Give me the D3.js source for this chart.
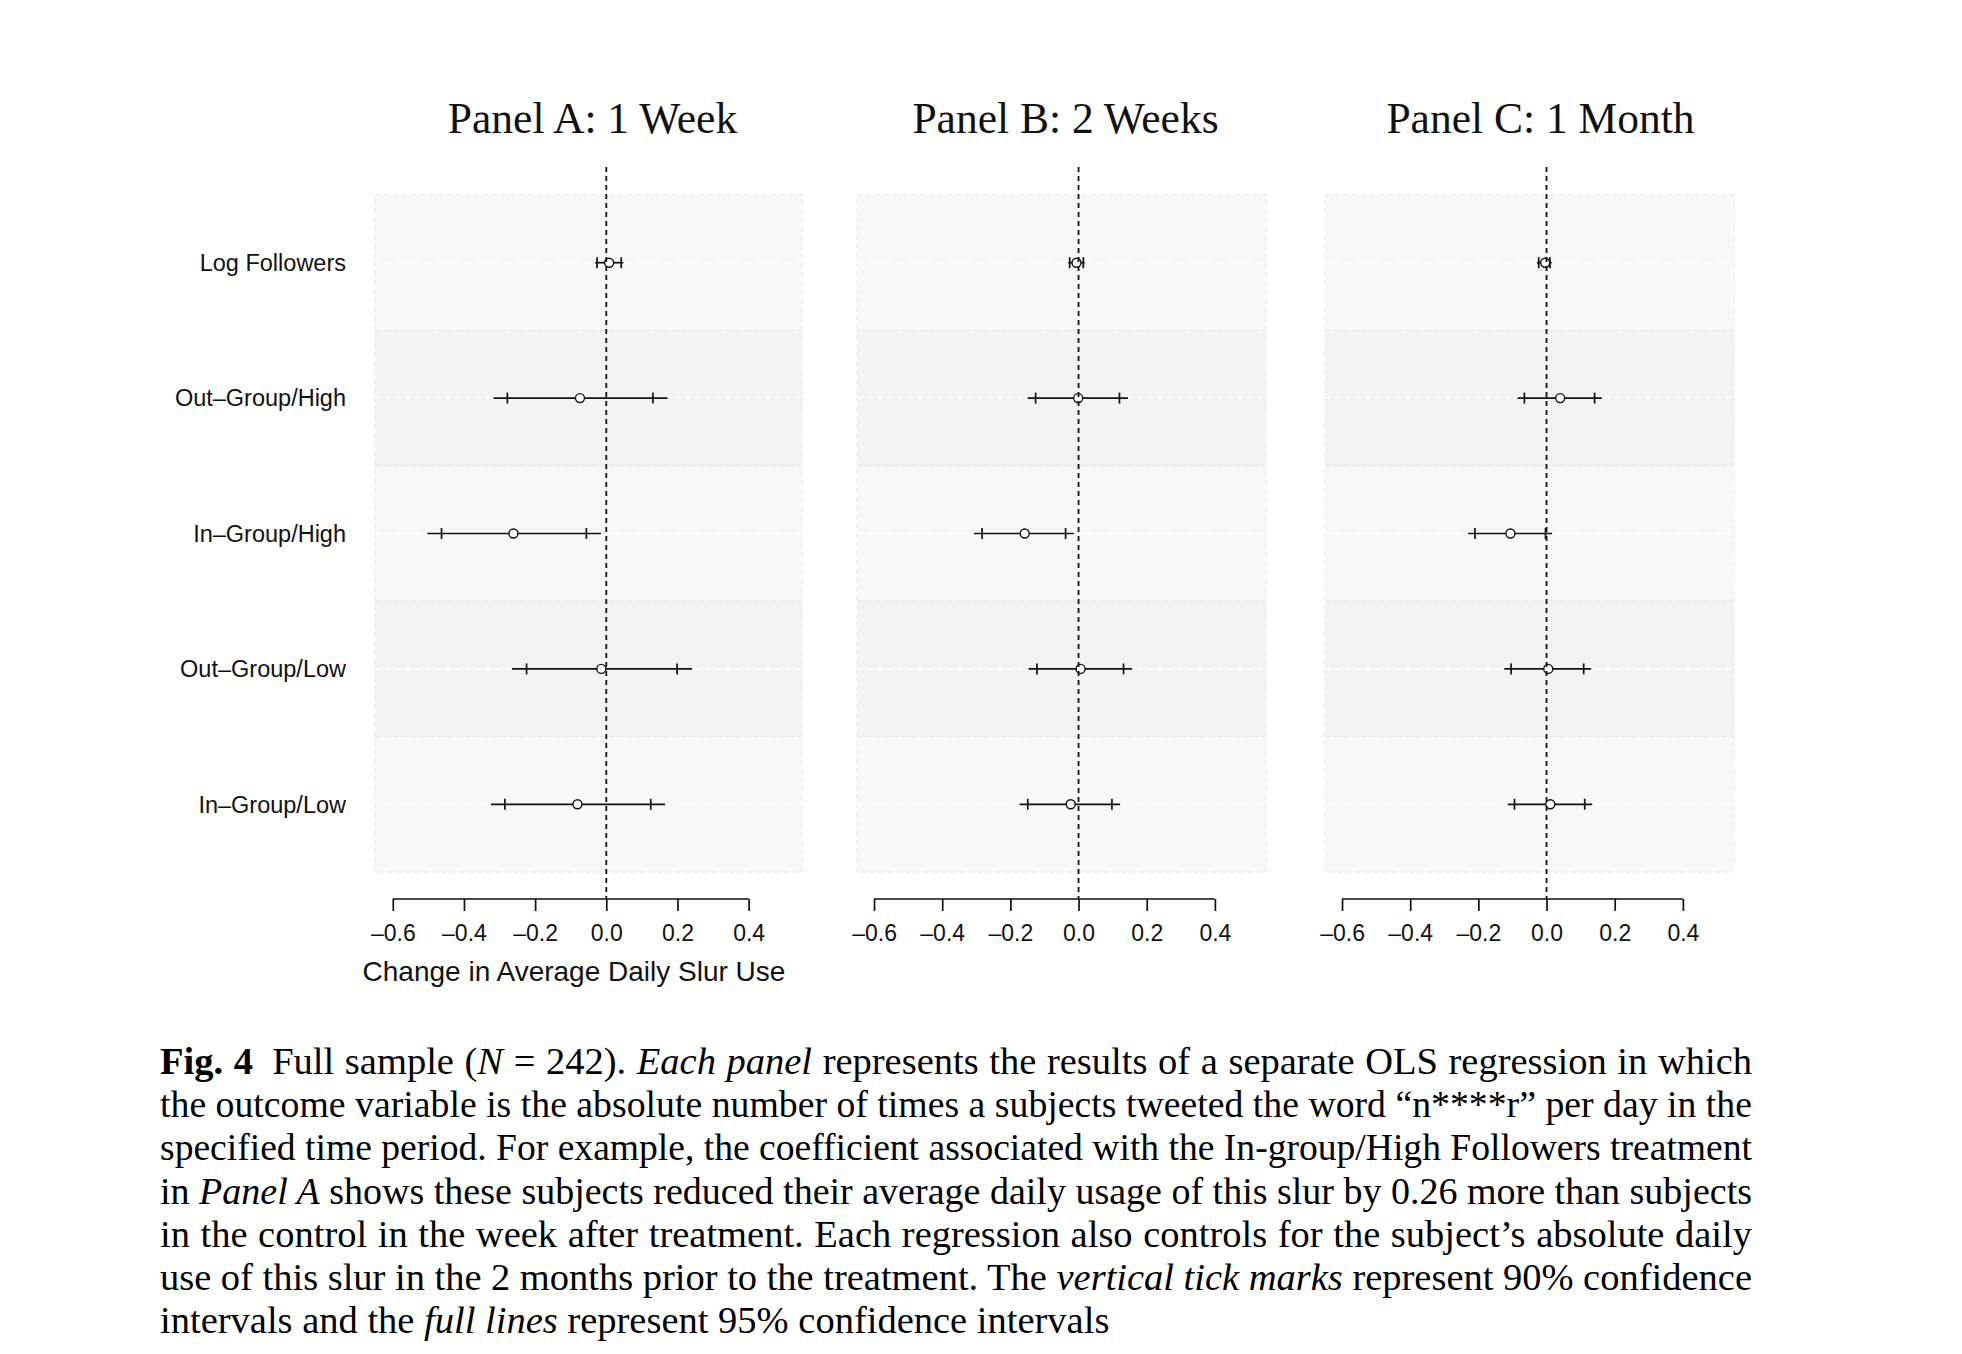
<!DOCTYPE html>
<html>
<head>
<meta charset="utf-8">
<script src="https://cdn.jsdelivr.net/npm/d3@7"></script>
<style>
  body { margin: 0; background: #fff; }
  svg { display: block; }
</style>
</head>
<body>
<svg id="chart"></svg>
<script>
const categories = ["Log Followers", "Out\u2013Group/High", "In\u2013Group/High", "Out\u2013Group/Low", "In\u2013Group/Low"];
const panelTitles = ["Panel A: 1 Week", "Panel B: 2 Weeks", "Panel C: 1 Month"];
const xTicks = [-0.6, -0.4, -0.2, 0.0, 0.2, 0.4];

// Panel A: 1 week
const estA  = [0.008, -0.074, -0.261, -0.014, -0.081];
const lo95A = [-0.031, -0.317, -0.503, -0.265, -0.324];
const hi95A = [0.048, 0.172, -0.015, 0.241, 0.165];
const lo90A = [-0.026, -0.278, -0.463, -0.224, -0.285];
const hi90A = [0.042, 0.131, -0.056, 0.199, 0.125];

// Panel B: 2 weeks
const estB  = [-0.006, -0.001, -0.158, 0.006, -0.023];
const lo95B = [-0.030, -0.149, -0.307, -0.147, -0.173];
const hi95B = [0.018, 0.145, -0.014, 0.157, 0.122];
const lo90B = [-0.026, -0.126, -0.283, -0.122, -0.149];
const hi90B = [0.014, 0.120, -0.038, 0.132, 0.098];

// Panel C: 1 month
const estC  = [-0.004, 0.040, -0.106, 0.005, 0.011];
const lo95C = [-0.028, -0.085, -0.230, -0.124, -0.114];
const hi95C = [0.015, 0.162, 0.016, 0.131, 0.134];
const lo90C = [-0.023, -0.065, -0.210, -0.104, -0.094];
const hi90C = [0.010, 0.141, -0.003, 0.109, 0.112];

const xLabel = "Change in Average Daily Slur Use";

// caption lines: [text, style] with style "" | "b" | "i"
const captionLines = [
  [["Fig. 4", "b"], ["\u2002Full sample (", ""], ["N", "i"], [" = 242). ", ""], ["Each panel", "i"], [" represents the results of a separate OLS regression in which", ""]],
  [["the outcome variable is the absolute number of times a subjects tweeted the word \u201cn****r\u201d per day in the", ""]],
  [["specified time period. For example, the coefficient associated with the In-group/High Followers treatment", ""]],
  [["in ", ""], ["Panel A", "i"], [" shows these subjects reduced their average daily usage of this slur by 0.26 more than subjects", ""]],
  [["in the control in the week after treatment. Each regression also controls for the subject\u2019s absolute daily", ""]],
  [["use of this slur in the 2 months prior to the treatment. The ", ""], ["vertical tick marks", "i"], [" represent 90% confidence", ""]],
  [["intervals and the ", ""], ["full lines", "i"], [" represent 95% confidence intervals", ""]]
];

const W = 1962, H = 1354;
const svg = d3.select("#chart").attr("width", W).attr("height", H);
svg.append("rect").attr("width", W).attr("height", H).attr("fill", "#fff");

const sans = "'Liberation Sans', Arial, Helvetica, sans-serif";
const serif = "'Liberation Serif', 'Times New Roman', serif";

const plotTop = 167, plotBottom = 899;
const y = d3.scaleBand()
  .domain(categories)
  .range([195, 872])
  .padding(0);

const panels = [
  { title: panelTitles[0], est: estA, lo95: lo95A, hi95: hi95A, lo90: lo90A, hi90: hi90A, x0: 375, x1: 802, tx: 4 },
  { title: panelTitles[1], est: estB, lo95: lo95B, hi95: hi95B, lo90: lo90B, hi90: hi90B, x0: 857, x1: 1266, tx: 4 },
  { title: panelTitles[2], est: estC, lo95: lo95C, hi95: hi95C, lo90: lo90C, hi90: hi90C, x0: 1325, x1: 1734, tx: 11 }
];

panels.forEach((p, pi) => {
  const x = d3.scaleLinear().domain([-0.65, 0.55]).range([p.x0, p.x1]);
  const g = svg.append("g").attr("class", "panel");
  const rows = categories.map((c, i) => ({
    cat: c, est: p.est[i], lo95: p.lo95[i], hi95: p.hi95[i], lo90: p.lo90[i], hi90: p.hi90[i], i
  }));
  const cy = d => y(d.cat) + y.bandwidth() / 2;

  // shaded row bands
  g.selectAll(".band")
    .data(rows)
    .enter()
    .append("rect")
    .attr("class", "band")
    .attr("x", p.x0)
    .attr("y", d => y(d.cat))
    .attr("width", p.x1 - p.x0)
    .attr("height", y.bandwidth())
    .attr("fill", d => d.i % 2 === 0 ? "#f8f8f8" : "#f3f3f3")
    .attr("stroke", "#e6e6e6")
    .attr("stroke-width", 1)
    .attr("stroke-dasharray", "5,4");

  // white dashed guide at each row centre
  g.selectAll(".guide")
    .data(rows)
    .enter()
    .append("line")
    .attr("x1", p.x0)
    .attr("x2", p.x1)
    .attr("y1", cy)
    .attr("y2", cy)
    .attr("stroke", "#fff")
    .attr("stroke-width", 1.5)
    .attr("stroke-dasharray", "6,4");

  // 95% interval lines
  g.selectAll(".ci95")
    .data(rows)
    .enter()
    .append("line")
    .attr("x1", d => x(d.lo95))
    .attr("x2", d => x(d.hi95))
    .attr("y1", cy)
    .attr("y2", cy)
    .attr("stroke", "#111")
    .attr("stroke-width", 1.7);

  // 90% tick marks
  ["lo90", "hi90"].forEach(k => {
    g.selectAll(".t" + k)
      .data(rows)
      .enter()
      .append("line")
      .attr("x1", d => x(d[k]))
      .attr("x2", d => x(d[k]))
      .attr("y1", d => cy(d) - 5.5)
      .attr("y2", d => cy(d) + 5.5)
      .attr("stroke", "#111")
      .attr("stroke-width", 1.7);
  });

  // point estimates
  g.selectAll(".pt")
    .data(rows)
    .enter()
    .append("circle")
    .attr("cx", d => x(d.est))
    .attr("cy", cy)
    .attr("r", 4.5)
    .attr("fill", "#fff")
    .attr("stroke", "#111")
    .attr("stroke-width", 1.4);

  // zero reference line
  g.append("line")
    .attr("x1", x(0)).attr("x2", x(0))
    .attr("y1", plotTop).attr("y2", plotBottom)
    .attr("stroke", "#111")
    .attr("stroke-width", 1.8)
    .attr("stroke-dasharray", "5,4");

  // bottom axis
  const ax = g.append("g")
    .attr("transform", `translate(0,${plotBottom})`)
    .call(d3.axisBottom(x)
      .tickValues(xTicks)
      .tickSize(12)
      .tickPadding(14)
      .tickFormat(d => d3.format(".1f")(d).replace("\u2212", "\u2013")));
  ax.select(".domain").remove();
  ax.append("line")
    .attr("x1", x(xTicks[0]))
    .attr("x2", x(xTicks[xTicks.length - 1]))
    .attr("stroke", "#111")
    .attr("stroke-width", 1.7);
  ax.selectAll(".tick line").attr("stroke", "#111").attr("stroke-width", 1.7);
  ax.selectAll(".tick text")
    .attr("fill", "#111")
    .style("font-family", sans)
    .style("font-size", "23px");

  // panel title
  svg.append("text")
    .attr("x", (p.x0 + p.x1) / 2 + p.tx)
    .attr("y", 133)
    .attr("text-anchor", "middle")
    .style("font-family", serif)
    .style("font-size", "43.5px")
    .attr("fill", "#111")
    .text(p.title);

  if (pi === 0) {
    // row labels
    svg.selectAll(".ylab")
      .data(categories)
      .enter()
      .append("text")
      .attr("class", "ylab")
      .attr("x", 346)
      .attr("y", d => y(d) + y.bandwidth() / 2)
      .attr("dy", "0.35em")
      .attr("text-anchor", "end")
      .style("font-family", sans)
      .style("font-size", "23.5px")
      .attr("fill", "#111")
      .text(d => d);

    svg.append("text")
      .attr("x", 574)
      .attr("y", 981)
      .attr("text-anchor", "middle")
      .style("font-family", sans)
      .style("font-size", "28px")
      .attr("fill", "#111")
      .text(xLabel);
  }
});

// caption, justified: widen word gaps, or squeeze glyphs if the line is too long
const capLeft = 160, capWidth = 1592, capTop = 1074, capLead = 43.2;
captionLines.forEach((line, li) => {
  const t = svg.append("text")
    .attr("x", capLeft)
    .attr("y", capTop + li * capLead)
    .style("font-family", serif)
    .style("font-size", "38.5px")
    .attr("fill", "#000");
  line.forEach(([s, st]) => {
    t.append("tspan")
      .style("font-weight", st === "b" ? "bold" : "normal")
      .style("font-style", st === "i" ? "italic" : "normal")
      .text(s);
  });
  if (li < captionLines.length - 1) {
    const natural = t.node().getComputedTextLength();
    const spaces = line.map(d => d[0]).join("").split(" ").length - 1;
    const extra = (capWidth - natural) / spaces;
    if (extra >= -1) {
      t.style("word-spacing", extra + "px");
    } else {
      t.attr("textLength", capWidth).attr("lengthAdjust", "spacingAndGlyphs");
    }
  }
});
</script>
</body>
</html>
